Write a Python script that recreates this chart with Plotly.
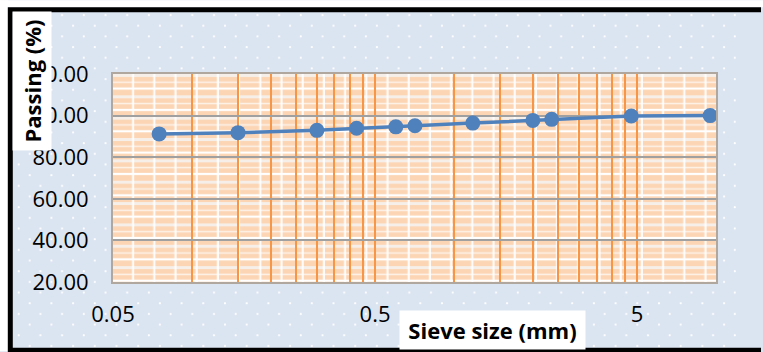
import base64
import plotly.graph_objects as go

# ---- data ----
sieve_mm = [0.075, 0.15, 0.3, 0.425, 0.6, 0.71, 1.18, 2.0, 2.36, 4.75, 9.5]
passing_pct = [91.2, 91.8, 92.9, 93.9, 94.6, 95.1, 96.4, 97.7, 98.2, 99.8, 100.0]
x_tick_vals = [0.05, 0.5, 5]
x_tick_text = ["0.05", "0.5", "5"]
x_minor_vals = [m * d for d in (0.05, 0.5, 5) for m in range(2, 10)]

# ---- layout geometry (pixels) ----
W, H = 763, 352
L, R, T, B = 113, 716, 74, 282.5
PW, PH = R - L, B - T


def px(x):
    return (x - L) / PW


def py(y):
    return (B - y) / PH


def svg_uri(svg):
    return "data:image/svg+xml;base64," + base64.b64encode(svg.encode()).decode()


BLUE = "#dbe4f1"

# dot pattern over the light-blue background
bw, bh = W - 28, H - 7
bg_svg = f'''<svg xmlns="http://www.w3.org/2000/svg" width="{bw}" height="{bh}" viewBox="0 0 {bw} {bh}">
<defs><pattern id="p" width="21.7" height="21.4" patternUnits="userSpaceOnUse">
<circle cx="10.7" cy="8" r="1.1" fill="#ffffff"/>
<circle cx="0" cy="18.7" r="1.1" fill="#ffffff"/>
<circle cx="21.7" cy="18.7" r="1.1" fill="#ffffff"/>
</pattern></defs>
<rect width="{bw}" height="{bh}" fill="url(#p)"/></svg>'''

# plot area: peach plaid
pa_svg = f'''<svg xmlns="http://www.w3.org/2000/svg" width="{PW}" height="{PH}" viewBox="0 0 {PW} {PH}">
<defs><pattern id="q" x="0" y="0" width="21.2" height="21.4" patternUnits="userSpaceOnUse">
<rect width="21.2" height="21.4" fill="#fcd5b4"/>
<rect x="0" y="0" width="21.2" height="3" fill="#f6efe9"/>
<rect x="0" y="7.5" width="21.2" height="1.5" fill="#fdf3ea"/>
<rect x="0" y="13.5" width="21.2" height="2.2" fill="#ffffff"/>
<rect x="19" y="0" width="2.6" height="21.4" fill="#ffffff" opacity="0.9"/>
</pattern></defs>
<rect width="{PW}" height="{PH}" fill="url(#q)"/></svg>'''

fig = go.Figure()
fig.add_trace(go.Scatter(
    x=sieve_mm, y=passing_pct, mode="lines+markers",
    line=dict(color="#4f81bd", width=3.5),
    marker=dict(color="#4f81bd", size=15),
    showlegend=False, cliponaxis=False,
))

font = "Open Sans"
fig.update_layout(
    width=W, height=H,
    margin=dict(l=L, r=W - R, t=T, b=H - B, pad=0),
    paper_bgcolor=BLUE,
    plot_bgcolor="rgba(0,0,0,0)",
    font=dict(family=font, size=22, color="#000000"),
    xaxis=dict(
        type="log", range=[-1.30103, 1.0],
        tickmode="array", tickvals=x_tick_vals, ticktext=x_tick_text,
        showgrid=True, gridcolor="#f79646", gridwidth=2,
        minor=dict(tickmode="array", tickvals=x_minor_vals, showgrid=True,
                   gridcolor="#f79646", gridwidth=2, ticks=""),
        ticks="", ticklabelstandoff=12,
        showline=True, linecolor="#b0a89e", linewidth=2, mirror=True,
        tickfont=dict(family=font, size=22),
        zeroline=False,
    ),
    yaxis=dict(
        range=[20, 120], tickmode="linear", tick0=20, dtick=20,
        tickformat=".2f",
        showgrid=True, gridcolor="#a0a0a0", gridwidth=1.5,
        ticks="", ticklabelstandoff=18,
        showline=True, linecolor="#b0a89e", linewidth=2, mirror=True,
        tickfont=dict(family=font, size=22),
        zeroline=False,
    ),
)

fig.add_layout_image(dict(
    source=svg_uri(bg_svg), xref="paper", yref="paper",
    x=px(8), y=py(7), sizex=bw / PW, sizey=bh / PH,
    xanchor="left", yanchor="top", sizing="stretch", layer="below",
))
fig.add_layout_image(dict(
    source=svg_uri(pa_svg), xref="paper", yref="paper",
    x=0, y=1, sizex=1, sizey=1,
    xanchor="left", yanchor="top", sizing="stretch", layer="below",
))

# white strips outside the frame (top and left)
fig.add_shape(type="rect", xref="paper", yref="paper",
              x0=px(0), x1=px(W), y0=py(7), y1=py(0),
              line=dict(width=0), fillcolor="#ffffff", layer="below")
fig.add_shape(type="rect", xref="paper", yref="paper",
              x0=px(0), x1=px(8), y0=py(H), y1=py(0),
              line=dict(width=0), fillcolor="#ffffff", layer="below")

# black frame as one open path: top, left, bottom (right side is outside the view)
xa, xl = px(W - 2), px(10.3)
yt, yb = py(9.5), py(351)
fig.add_shape(type="path", xref="paper", yref="paper",
              path=f"M {xa},{yt} L {xl},{yt} L {xl},{yb} L {xa},{yb}",
              line=dict(color="#000000", width=5), fillcolor="rgba(0,0,0,0)",
              layer="below")

fig.add_annotation(
    text="<b>Sieve size (mm)</b>", xref="paper", yref="paper",
    x=px(492.5), y=py(330.5), xanchor="center", yanchor="middle",
    showarrow=False, bgcolor="#ffffff", width=183, height=36,
    font=dict(family=font, size=22, color="#000000"),
)
fig.add_annotation(
    text="<b>Passing (%)</b>", xref="paper", yref="paper",
    x=px(32), y=py(81), xanchor="center", yanchor="middle",
    showarrow=False, bgcolor="#ffffff", width=136, height=36, textangle=-90,
    font=dict(family=font, size=22, color="#000000"),
)

fig.write_html("out.html")
